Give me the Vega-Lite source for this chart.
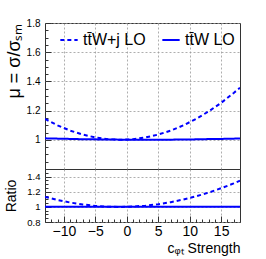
{
  "$schema": "https://vega.github.io/schema/vega-lite/v6.json",
  "autosize": {"type": "pad"},
  "padding": {"left": 3, "top": 17, "right": 26, "bottom": 12},
  "background": "white",
  "spacing": 0,
  "bounds": "flush",
  "config": {
    "font": "Liberation Sans",
    "view": {"stroke": "#333", "strokeWidth": 1},
    "axis": {"labelFont": "Liberation Sans", "titleFont": "Liberation Sans", "labelColor": "#000", "titleColor": "#000", "domain": false, "gridColor": "#999", "gridDash": [2, 2], "gridWidth": 0.8, "tickColor": "#333", "labelFontSize": 12, "titleFontWeight": "normal"}
  },
  "datasets": {
    "main": [
      {"x": -13, "y": 1.143, "s": "tt̄W+j LO"}, {"x": -11, "y": 1.099, "s": "tt̄W+j LO"}, {"x": -9, "y": 1.063, "s": "tt̄W+j LO"}, {"x": -7, "y": 1.036, "s": "tt̄W+j LO"}, {"x": -5, "y": 1.016, "s": "tt̄W+j LO"}, {"x": -3, "y": 1.004, "s": "tt̄W+j LO"}, {"x": -1, "y": 1.0, "s": "tt̄W+j LO"}, {"x": 1, "y": 1.004, "s": "tt̄W+j LO"}, {"x": 3, "y": 1.016, "s": "tt̄W+j LO"}, {"x": 5, "y": 1.036, "s": "tt̄W+j LO"}, {"x": 7, "y": 1.063, "s": "tt̄W+j LO"}, {"x": 9, "y": 1.099, "s": "tt̄W+j LO"}, {"x": 11, "y": 1.143, "s": "tt̄W+j LO"}, {"x": 13, "y": 1.194, "s": "tt̄W+j LO"}, {"x": 15, "y": 1.253, "s": "tt̄W+j LO"}, {"x": 17, "y": 1.321, "s": "tt̄W+j LO"}, {"x": 18, "y": 1.357, "s": "tt̄W+j LO"},
      {"x": -13, "y": 1.010, "s": "tt̄W LO"}, {"x": -11, "y": 1.008, "s": "tt̄W LO"}, {"x": -9, "y": 1.006, "s": "tt̄W LO"}, {"x": -7, "y": 1.004, "s": "tt̄W LO"}, {"x": -5, "y": 1.003, "s": "tt̄W LO"}, {"x": -3, "y": 1.002, "s": "tt̄W LO"}, {"x": -1, "y": 1.001, "s": "tt̄W LO"}, {"x": 1, "y": 1.0, "s": "tt̄W LO"}, {"x": 3, "y": 1.0, "s": "tt̄W LO"}, {"x": 5, "y": 1.001, "s": "tt̄W LO"}, {"x": 7, "y": 1.001, "s": "tt̄W LO"}, {"x": 9, "y": 1.002, "s": "tt̄W LO"}, {"x": 11, "y": 1.003, "s": "tt̄W LO"}, {"x": 13, "y": 1.005, "s": "tt̄W LO"}, {"x": 15, "y": 1.006, "s": "tt̄W LO"}, {"x": 17, "y": 1.008, "s": "tt̄W LO"}, {"x": 18, "y": 1.009, "s": "tt̄W LO"}
    ],
    "ratio": [
      {"x": -13, "y": 1.132, "s": "tt̄W+j LO"}, {"x": -11, "y": 1.090, "s": "tt̄W+j LO"}, {"x": -9, "y": 1.057, "s": "tt̄W+j LO"}, {"x": -7, "y": 1.032, "s": "tt̄W+j LO"}, {"x": -5, "y": 1.013, "s": "tt̄W+j LO"}, {"x": -3, "y": 1.002, "s": "tt̄W+j LO"}, {"x": -1, "y": 0.999, "s": "tt̄W+j LO"}, {"x": 1, "y": 1.004, "s": "tt̄W+j LO"}, {"x": 3, "y": 1.016, "s": "tt̄W+j LO"}, {"x": 5, "y": 1.035, "s": "tt̄W+j LO"}, {"x": 7, "y": 1.062, "s": "tt̄W+j LO"}, {"x": 9, "y": 1.097, "s": "tt̄W+j LO"}, {"x": 11, "y": 1.139, "s": "tt̄W+j LO"}, {"x": 13, "y": 1.188, "s": "tt̄W+j LO"}, {"x": 15, "y": 1.246, "s": "tt̄W+j LO"}, {"x": 17, "y": 1.310, "s": "tt̄W+j LO"}, {"x": 18, "y": 1.345, "s": "tt̄W+j LO"},
      {"x": -13, "y": 1.0, "s": "tt̄W LO"}, {"x": 18, "y": 1.0, "s": "tt̄W LO"}
    ]
  },
  "vconcat": [
    {
      "width": 195,
      "height": 146,
      "data": {"name": "main"},
      "mark": {"type": "line", "strokeWidth": 2, "clip": true},
      "encoding": {
        "x": {"field": "x", "type": "quantitative", "scale": {"domain": [-13, 18], "nice": false},
              "axis": {"values": [-15,-10,-5,0,5,10,15], "labels": false, "ticks": false, "domain": false, "labelPadding": 0, "title": null}},
        "y": {"field": "y", "type": "quantitative", "scale": {"domain": [0.8, 1.8], "nice": false},
              "axis": {"values": [0.8,0.85,0.9,0.95,1,1.05,1.1,1.15,1.2,1.25,1.3,1.35,1.4,1.45,1.5,1.55,1.6,1.65,1.7,1.75,1.8],
                       "labelExpr": "(abs(datum.value*10 - round(datum.value*10)) < 0.001 && round(datum.value*10) % 2 === 0 && datum.value > 0.9) ? format(datum.value, '~g') : ''",
                       "gridOpacity": {"condition": {"test": "abs(datum.value*10 - round(datum.value*10)) < 0.001 && round(datum.value*10) % 2 === 0", "value": 1}, "value": 0},
                       "tickSize": {"condition": {"test": "abs(datum.value*10 - round(datum.value*10)) < 0.001 && round(datum.value*10) % 2 === 0", "value": -6}, "value": -3},
                       "labelPadding": 11, "labelFontSize": 10,
                       "title": "μ = σ/σₛₘ", "titleFontSize": 18, "titleAnchor": "end", "titleX": -22}},
        "color": {"field": "s", "type": "nominal", "scale": {"domain": ["tt̄W+j LO", "tt̄W LO"], "range": ["#0000ff", "#0000ff"]},
                  "legend": {"orient": "none", "legendX": 14, "legendY": 7, "direction": "horizontal", "title": null, "labelFontSize": 16, "labelFont": "Liberation Sans", "symbolType": "stroke", "symbolSize": 300, "symbolStrokeWidth": 2, "columnPadding": 12, "labelColor": "#000"}},
        "strokeDash": {"field": "s", "type": "nominal", "scale": {"domain": ["tt̄W+j LO", "tt̄W LO"], "range": [[4, 3], [1, 0]]}, "legend": null}
      }
    },
    {
      "width": 195,
      "height": 53,
      "data": {"name": "ratio"},
      "mark": {"type": "line", "strokeWidth": 2, "clip": true},
      "encoding": {
        "x": {"field": "x", "type": "quantitative", "scale": {"domain": [-13, 18], "nice": false},
              "axis": {"values": [-13,-12,-11,-10,-9,-8,-7,-6,-5,-4,-3,-2,-1,0,1,2,3,4,5,6,7,8,9,10,11,12,13,14,15,16,17,18],
                       "labelExpr": "datum.value % 5 === 0 ? format(datum.value, 'd') : ''",
                       "labelFontSize": 14, "labelPadding": 8,
                       "tickSize": {"condition": {"test": "datum.value % 5 === 0", "value": -6}, "value": -3},
                       "gridOpacity": {"condition": {"test": "datum.value % 5 === 0", "value": 1}, "value": 0},
                       "title": "cᵩₜ Strength", "titleFontSize": 14, "titleAnchor": "end", "titlePadding": 3}},
        "y": {"field": "y", "type": "quantitative", "scale": {"domain": [0.8, 1.5], "nice": false},
              "axis": {"values": [0.8, 0.85, 0.9, 0.95, 1, 1.05, 1.1, 1.15, 1.2, 1.25, 1.3, 1.35, 1.4, 1.45, 1.5],
                       "labelExpr": "(abs(datum.value*10 - round(datum.value*10)) < 0.001 && round(datum.value*10) % 2 === 0 && datum.value < 1.45) ? format(datum.value, '~g') : ''",
                       "gridOpacity": {"condition": {"test": "abs(datum.value*10 - round(datum.value*10)) < 0.001 && round(datum.value*10) % 2 === 0", "value": 1}, "value": 0},
                       "tickSize": {"condition": {"test": "abs(datum.value*10 - round(datum.value*10)) < 0.001 && round(datum.value*10) % 2 === 0", "value": -6}, "value": -3},
                       "labelFontSize": 9.5, "labelPadding": 11,
                       "title": "Ratio", "titleFontSize": 14, "titleX": -27}},
        "color": {"field": "s", "type": "nominal", "scale": {"domain": ["tt̄W+j LO", "tt̄W LO"], "range": ["#0000ff", "#0000ff"]}, "legend": null},
        "strokeDash": {"field": "s", "type": "nominal", "scale": {"domain": ["tt̄W+j LO", "tt̄W LO"], "range": [[4, 3], [1, 0]]}, "legend": null}
      }
    }
  ]
}
